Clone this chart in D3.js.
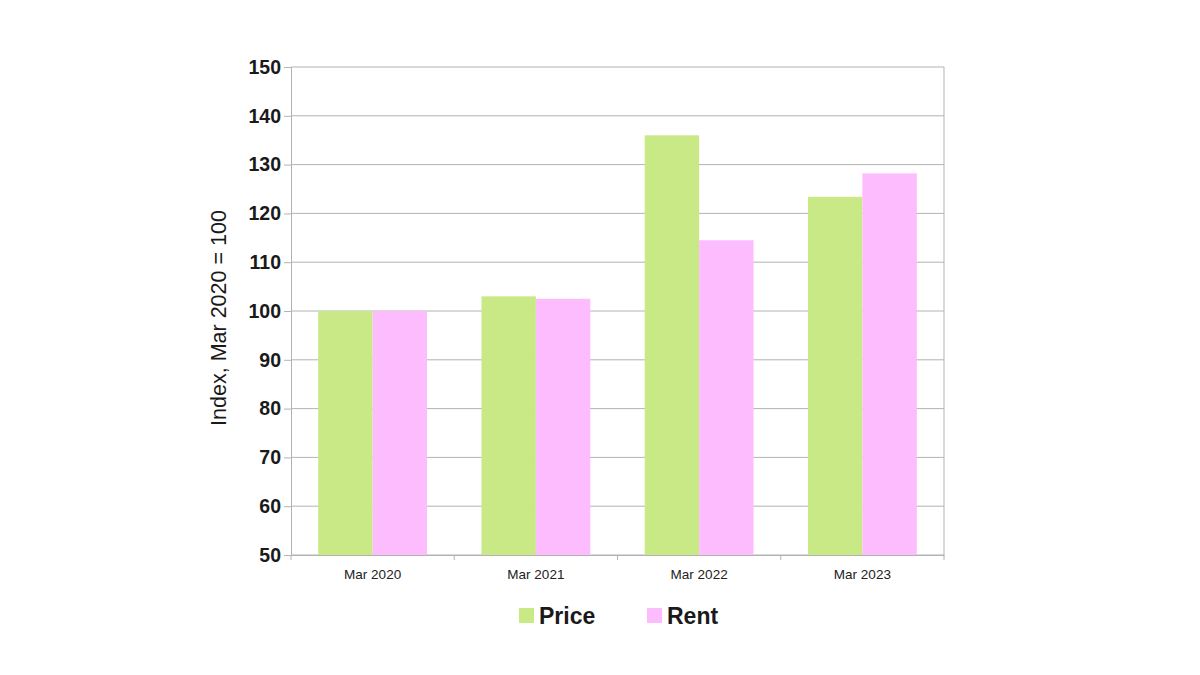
<!DOCTYPE html>
<html>
<head>
<meta charset="utf-8">
<script src="https://cdn.jsdelivr.net/npm/d3@7"></script>
<style>
    body { margin: 0; background: #fff; }
    svg { display: block; font-family: "Liberation Sans", Arial, sans-serif; }
</style>
</head>
<body>
<svg id="chart" width="1200" height="675"></svg>
<script>
const categories = ["Mar 2020", "Mar 2021", "Mar 2022", "Mar 2023"];
const priceValues = [100, 103, 136, 123.4];
const rentValues = [100, 102.5, 114.5, 128.2];
const seriesNames = ["Price", "Rent"];
const yTicks = [50, 60, 70, 80, 90, 100, 110, 120, 130, 140, 150];

const colors = { Price: "#c8e985", Rent: "#fdbcfd" };

const svg = d3.select("#chart");
const plotLeft = 291, plotRight = 944, plotTop = 67, plotBottom = 555;

const x = d3.scaleBand().domain(categories).range([plotLeft, plotRight]);
const y = d3.scaleLinear().domain([50, 150]).range([plotBottom, plotTop]);

// bars: each bar is a third of the band, group centered
const barW = x.bandwidth() / 3;
const inner = d3.scaleBand().domain(seriesNames)
    .range([barW / 2, barW / 2 + 2 * barW]);

// gridlines
svg.append("g")
    .selectAll("line")
    .data(yTicks)
    .enter()
    .append("line")
    .attr("x1", plotLeft)
    .attr("x2", plotRight)
    .attr("y1", (d) => y(d))
    .attr("y2", (d) => y(d))
    .attr("stroke", "#b3b3b3")
    .attr("stroke-width", 1);

// right border
svg.append("line")
    .attr("x1", plotRight).attr("x2", plotRight)
    .attr("y1", plotTop).attr("y2", plotBottom)
    .attr("stroke", "#b3b3b3");

const rows = categories.map((c, i) => ({
    cat: c,
    Price: priceValues[i],
    Rent: rentValues[i],
}));

svg.append("g")
    .selectAll("g")
    .data(rows)
    .enter()
    .append("g")
    .attr("transform", (d) => `translate(${x(d.cat)},0)`)
    .selectAll("rect")
    .data((d) => seriesNames.map((s) => ({ s, v: d[s] })))
    .enter()
    .append("rect")
    .attr("x", (d) => inner(d.s))
    .attr("width", inner.bandwidth())
    .attr("y", (d) => y(d.v))
    .attr("height", (d) => y(50) - y(d.v))
    .attr("fill", (d) => colors[d.s]);

// y axis
const yAxis = svg.append("g")
    .attr("transform", `translate(${plotLeft},0)`)
    .call(d3.axisLeft(y).tickValues(yTicks).tickSize(7).tickPadding(3));
yAxis.select(".domain").attr("stroke", "#b3b3b3");
yAxis.selectAll(".tick line").attr("stroke", "#b3b3b3");
yAxis.selectAll(".tick text")
    .attr("fill", "#1a1a1a")
    .style("font-size", "19.5px")
    .style("font-weight", "bold");

// x axis
const xAxis = svg.append("g")
    .attr("transform", `translate(0,${plotBottom})`)
    .call(d3.axisBottom(x).tickSize(0).tickPadding(14));
xAxis.select(".domain").attr("stroke", "#b3b3b3");
xAxis.selectAll(".tick text")
    .attr("fill", "#222")
    .style("font-size", "13.5px");
xAxis.selectAll(".sep")
    .data(d3.range(categories.length + 1))
    .enter()
    .append("line")
    .attr("class", "sep")
    .attr("x1", (i) => plotLeft + i * x.step())
    .attr("x2", (i) => plotLeft + i * x.step())
    .attr("y1", 0)
    .attr("y2", 5)
    .attr("stroke", "#b3b3b3");

// y axis title
svg.append("text")
    .attr("transform", `translate(226,${(plotTop + plotBottom) / 2 + 7}) rotate(-90)`)
    .attr("text-anchor", "middle")
    .attr("fill", "#1a1a1a")
    .style("font-size", "21.5px")
    .text("Index, Mar 2020 = 100");

// legend
const legendX = [519, 647];
const legend = svg.append("g")
    .selectAll("g")
    .data(seriesNames)
    .enter()
    .append("g")
    .attr("transform", (d, i) => `translate(${legendX[i]},608)`);
legend.append("rect")
    .attr("width", 15)
    .attr("height", 15)
    .attr("fill", (d) => colors[d]);
legend.append("text")
    .attr("x", 20)
    .attr("y", 16)
    .attr("fill", "#1a1a1a")
    .style("font-size", "23px")
    .style("font-weight", "bold")
    .text((d) => d);
</script>
</body>
</html>
